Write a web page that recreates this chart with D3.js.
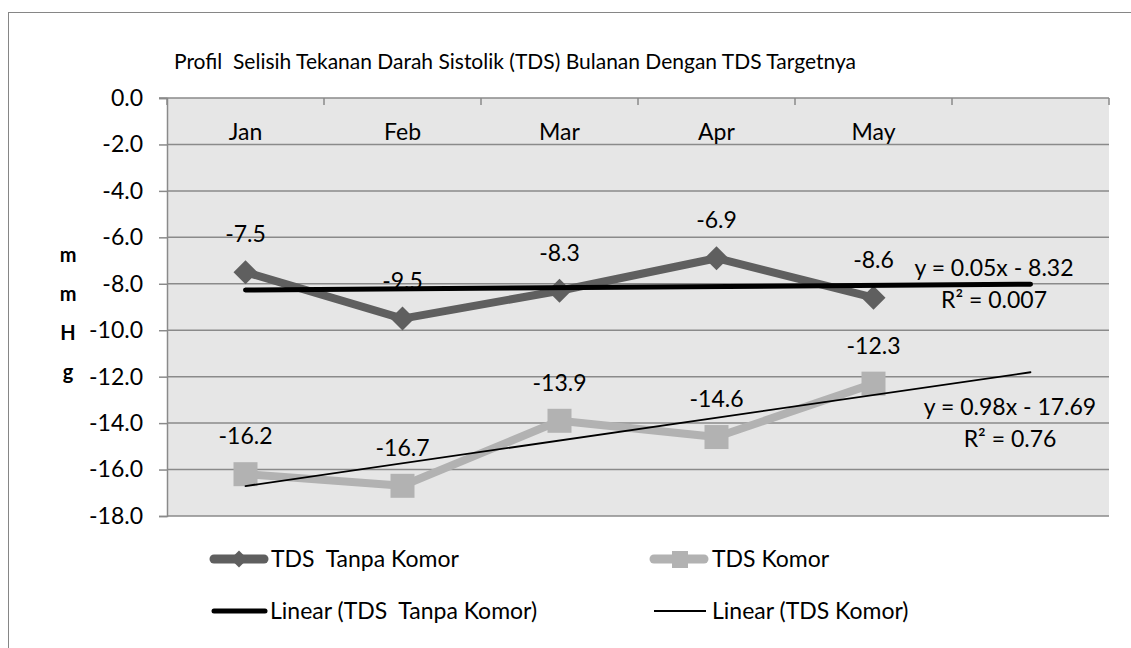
<!DOCTYPE html>
<html>
<head>
<meta charset="utf-8">
<script src="https://cdn.jsdelivr.net/npm/d3@7"></script>
<style>
  body { margin: 0; background: white; }
  text { font-family: Lato, "Open Sans", sans-serif; fill: #000; }
</style>
</head>
<body>
<div id="canvas"></div>
<script>
"use strict"

// chart data
let months = ["Jan", "Feb", "Mar", "Apr", "May", ""];
let tanpaKomor = [-7.5, -9.5, -8.3, -6.9, -8.6];
let komor = [-16.2, -16.7, -13.9, -14.6, -12.3];
let yTicks = [0, -2, -4, -6, -8, -10, -12, -14, -16, -18];
let trendTanpa = { slope: 0.05, intercept: -8.32, label: "y = 0.05x - 8.32", r2: "R² = 0.007" };
let trendKomor = { slope: 0.98, intercept: -17.69, label: "y = 0.98x - 17.69", r2: "R² = 0.76" };
let trendSpan = [1, 6];
let legendNames = ["TDS  Tanpa Komor", "TDS Komor", "Linear (TDS  Tanpa Komor)", "Linear (TDS Komor)"];

let drawingWidth = 1131;
let drawingHeight = 648;
let plotLeft = 167, plotRight = 1109, plotTop = 98, plotBottom = 516;
let fontSize = 23;

let darkGrey = "#5f5f5f";
let lightGrey = "#b2b2b2";
let gridColor = "#8a8a8a";

let drawing = d3.select("#canvas")
    .append("svg")
    .attr("width", drawingWidth)
    .attr("height", drawingHeight);

// outer chart border
drawing.append("rect")
    .attr("x", 8.5)
    .attr("y", 12.5)
    .attr("width", 1140)
    .attr("height", 660)
    .attr("fill", "white")
    .attr("stroke", "#868686")
    .attr("stroke-width", 1);

let x = d3.scaleBand()
    .domain(d3.range(months.length))
    .range([plotLeft, plotRight]);

// x position for trend (1-based month index)
let xNum = d3.scaleLinear()
    .domain([1, 2])
    .range([x(0) + x.bandwidth() / 2, x(1) + x.bandwidth() / 2]);

let y = d3.scaleLinear()
    .domain([0, -18])
    .range([plotTop, plotBottom]);

// plot area
drawing.append("rect")
    .attr("x", plotLeft)
    .attr("y", plotTop)
    .attr("width", plotRight - plotLeft)
    .attr("height", plotBottom - plotTop)
    .attr("fill", "#e6e6e6");

// grid lines
drawing.append("g")
    .selectAll("line")
    .data(yTicks.slice(1))
    .join("line")
    .attr("x1", plotLeft)
    .attr("x2", plotRight)
    .attr("y1", d => y(d))
    .attr("y2", d => y(d))
    .attr("stroke", gridColor)
    .attr("stroke-width", 1.5);

// y axis
let yAxis = drawing.append("g")
    .attr("transform", `translate(${plotLeft},0)`)
    .call(d3.axisLeft(y).tickValues(yTicks).tickSize(8).tickPadding(16).tickFormat(d => d.toFixed(1)));
yAxis.selectAll("line").attr("stroke", gridColor).attr("stroke-width", 1.5);
yAxis.select(".domain").attr("stroke", gridColor).attr("stroke-width", 1.5);
yAxis.selectAll("text").attr("font-size", fontSize).attr("font-family", "Lato, sans-serif").attr("fill", "#000");

// x axis on top (zero line)
let xAxis = drawing.append("g")
    .attr("transform", `translate(0,${plotTop})`);
xAxis.append("line")
    .attr("x1", plotLeft - 8)
    .attr("x2", plotRight)
    .attr("stroke", gridColor)
    .attr("stroke-width", 1.5);
xAxis.selectAll("line.tick")
    .data(d3.range(months.length + 1))
    .join("line")
    .attr("class", "tick")
    .attr("x1", d => plotLeft + d * x.step())
    .attr("x2", d => plotLeft + d * x.step())
    .attr("y1", 0)
    .attr("y2", 7)
    .attr("stroke", gridColor)
    .attr("stroke-width", 1.5);
xAxis.selectAll("text")
    .data(months)
    .join("text")
    .attr("x", (d, i) => x(i) + x.bandwidth() / 2)
    .attr("y", 42)
    .attr("text-anchor", "middle")
    .attr("font-size", fontSize)
    .text(d => d);

// title
drawing.append("text")
    .attr("x", 174)
    .attr("y", 69)
    .attr("font-size", 21)
    .style("white-space", "pre")
    .text("Profil  Selisih Tekanan Darah Sistolik (TDS) Bulanan Dengan TDS Targetnya");

// y axis title
drawing.append("g")
    .selectAll("text")
    .data(["m", "m", "H", "g"])
    .join("text")
    .attr("x", 68)
    .attr("y", (d, i) => 262 + i * 39)
    .attr("text-anchor", "middle")
    .attr("font-size", 20)
    .attr("font-weight", "bold")
    .text(d => d);

let line = d3.line()
    .x((d, i) => x(i) + x.bandwidth() / 2)
    .y(d => y(d));

// series lines
drawing.append("path")
    .datum(tanpaKomor)
    .attr("d", line)
    .attr("fill", "none")
    .attr("stroke", darkGrey)
    .attr("stroke-width", 8)
    .attr("stroke-linejoin", "round");

drawing.append("path")
    .datum(komor)
    .attr("d", line)
    .attr("fill", "none")
    .attr("stroke", lightGrey)
    .attr("stroke-width", 8)
    .attr("stroke-linejoin", "round");

// markers
drawing.append("g")
    .selectAll("path")
    .data(tanpaKomor)
    .join("path")
    .attr("transform", (d, i) => `translate(${x(i) + x.bandwidth() / 2},${y(d)})`)
    .attr("d", "M0,-12L12,0L0,12L-12,0Z")
    .attr("fill", darkGrey);

drawing.append("g")
    .selectAll("rect")
    .data(komor)
    .join("rect")
    .attr("x", (d, i) => x(i) + x.bandwidth() / 2 - 12)
    .attr("y", d => y(d) - 12)
    .attr("width", 24)
    .attr("height", 24)
    .attr("fill", lightGrey);

// trend lines
function trendLine(t, width) {
    drawing.append("line")
        .attr("x1", xNum(trendSpan[0]))
        .attr("x2", xNum(trendSpan[1]))
        .attr("y1", y(t.intercept + t.slope * trendSpan[0]))
        .attr("y2", y(t.intercept + t.slope * trendSpan[1]))
        .attr("stroke", "black")
        .attr("stroke-width", width)
        .attr("stroke-linecap", "round");
}
trendLine(trendTanpa, 5);
trendLine(trendKomor, 1.8);

// data labels
function dataLabels(values) {
    drawing.append("g")
        .selectAll("text")
        .data(values)
        .join("text")
        .attr("x", (d, i) => x(i) + x.bandwidth() / 2)
        .attr("y", d => y(d) - 30)
        .attr("text-anchor", "middle")
        .attr("font-size", fontSize)
        .text(d => d.toFixed(1));
}
dataLabels(tanpaKomor);
dataLabels(komor);

// trend equations
function equation(t, cx, yEq, yR2) {
    drawing.append("text")
        .attr("x", cx).attr("y", yEq)
        .attr("text-anchor", "middle").attr("font-size", fontSize)
        .text(t.label);
    drawing.append("text")
        .attr("x", cx).attr("y", yR2)
        .attr("text-anchor", "middle").attr("font-size", fontSize)
        .text(t.r2);
}
equation(trendTanpa, 994, 276, 308);
equation(trendKomor, 1010, 415, 447);

// legend
let legend = drawing.append("g");
let legendRows = [559, 559, 611, 611];

legend.append("line")
    .attr("x1", 214).attr("x2", 264).attr("y1", 559).attr("y2", 559)
    .attr("stroke", darkGrey).attr("stroke-width", 9).attr("stroke-linecap", "round");
legend.append("path")
    .attr("transform", "translate(239,559)")
    .attr("d", "M0,-8.5L8.5,0L0,8.5L-8.5,0Z")
    .attr("fill", darkGrey);

legend.append("line")
    .attr("x1", 654).attr("x2", 704).attr("y1", 559).attr("y2", 559)
    .attr("stroke", lightGrey).attr("stroke-width", 9).attr("stroke-linecap", "round");
legend.append("rect")
    .attr("x", 672).attr("y", 551).attr("width", 16).attr("height", 17)
    .attr("fill", lightGrey);

legend.append("line")
    .attr("x1", 214).attr("x2", 265).attr("y1", 611).attr("y2", 611)
    .attr("stroke", "black").attr("stroke-width", 5).attr("stroke-linecap", "round");
legend.append("line")
    .attr("x1", 654).attr("x2", 706).attr("y1", 611).attr("y2", 611)
    .attr("stroke", "black").attr("stroke-width", 1.8);

let textX = [271, 712, 270, 712];
legend.selectAll("text")
    .data(legendNames)
    .join("text")
    .attr("x", (d, i) => textX[i])
    .attr("y", (d, i) => legendRows[i] + 8)
    .attr("font-size", fontSize)
    .style("white-space", "pre")
    .text(d => d);
</script>
</body>
</html>
